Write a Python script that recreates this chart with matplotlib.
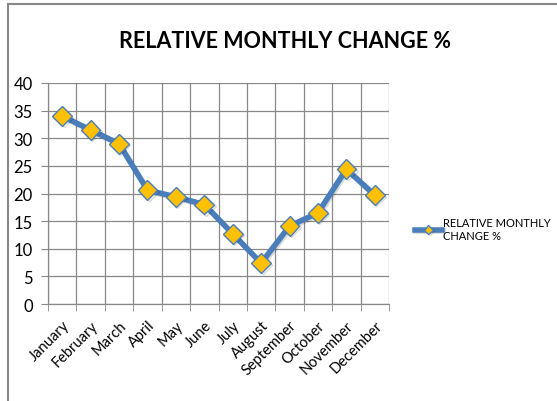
import matplotlib.pyplot as plt
import matplotlib.patheffects as pe
from matplotlib.lines import Line2D
import numpy as np

months = ['January', 'February', 'March', 'April', 'May', 'June', 'July',
          'August', 'September', 'October', 'November', 'December']
change = [34.0, 31.5, 29.0, 20.6, 19.4, 18.0, 12.7, 7.4, 14.1, 16.5, 24.4, 19.7]
yticks = [0, 5, 10, 15, 20, 25, 30, 35, 40]
title = 'RELATIVE MONTHLY CHANGE %'

plt.rcParams['font.family'] = ['Lato', 'DejaVu Sans']

fig = plt.figure(figsize=(5.57, 4.02), dpi=100)
ax = fig.add_axes([48 / 557, 1 - 305 / 402, 341 / 557, 221 / 402])

x = np.arange(len(months))
ax.plot(x, change, color='#4A7EBB', lw=4, marker='D', markersize=10,
        markerfacecolor='#FFC000', markeredgecolor='#4A7EBB', markeredgewidth=1,
        label='RELATIVE MONTHLY\nCHANGE %',
        path_effects=[pe.SimpleLineShadow(offset=(1, -1), alpha=0.15), pe.Normal()],
        zorder=3)

ax.set_xlim(-0.5, len(months) - 0.5)
ax.set_ylim(0, 40)
ax.set_yticks(yticks)
ax.set_xticks(x)
ax.set_xticklabels(months, rotation=45, ha='right', rotation_mode='anchor', fontsize=10.5)
ax.set_xticks(np.arange(-0.5, len(months), 1), minor=True)
ax.tick_params(axis='x', which='major', length=0, pad=10)
ax.tick_params(axis='x', which='minor', length=5, color='#888888')
ax.tick_params(axis='y', length=5, color='#888888', labelsize=12, pad=6)
ax.grid(True, axis='y', color='#888888', lw=0.9)
ax.grid(True, axis='x', which='minor', color='#888888', lw=0.9)
for s in ['top', 'right']:
    ax.spines[s].set_visible(False)
for s in ['left', 'bottom']:
    ax.spines[s].set_color('#888888')
    ax.spines[s].set_linewidth(0.9)

fig.text(285 / 557, 1 - 42 / 402, title, ha='center', va='center',
         fontsize=15.5, fontweight='bold')

leg = fig.legend(loc='center left', bbox_to_anchor=(405 / 557, 1 - 230 / 402),
                 frameon=False, fontsize=8, handlelength=2.4, handletextpad=0.1,
                 markerscale=0.45)

# outer chart border (left and top only visible)
fig.add_artist(Line2D([8 / 557, 8 / 557], [0, 1 - 5 / 402], color='#888888', lw=1.5))
fig.add_artist(Line2D([8 / 557, 1], [1 - 5 / 402, 1 - 5 / 402], color='#888888', lw=1.5))

fig.savefig('out.png', dpi=100)
